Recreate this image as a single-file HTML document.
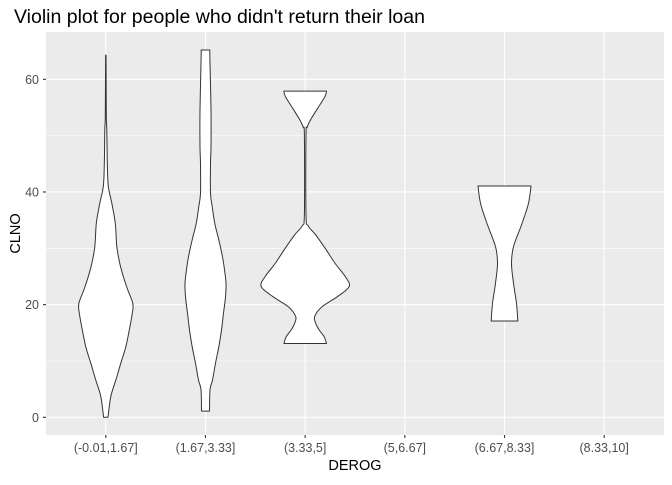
<!DOCTYPE html>
<html><head><meta charset="utf-8"><style>
body{margin:0;background:#fff;font-family:"Liberation Sans",Arial,sans-serif}
</style></head><body>
<svg id="c" width="672" height="480" xmlns="http://www.w3.org/2000/svg"></svg>
<script>
const categories=["(-0.01,1.67]","(1.67,3.33]","(3.33,5]","(5,6.67]","(6.67,8.33]","(8.33,10]"];
const yTicks=[0,20,40,60];
// violin profiles: value (CLNO) and half-width (density, px)
const v1Vals=[0,3.7,6.6,9.6,12.5,15.5,18.5,20.2,22.6,25,27.3,30.3,34.4,38,41,45,51,53.7,64.3];
const v1Dens=[2.2,5,10,15,20,23.5,26.5,27,22,17.5,14,11,9.5,6,2.5,1.5,1,0.5,0.2];
const v2Vals=[1.1,4.9,6.6,9.6,12.5,15.5,18.5,21.4,23.8,26.2,28.5,31.5,34.4,37.4,39.8,45,48,54.6,62.8,65.2];
const v2Dens=[4,4.5,7,10,13.3,16,18,20,20.5,19,17,13.3,9.3,6.7,5,5,5.5,5.5,4.5,4.3];
const v3Vals=[13.1,14.3,15.5,16.7,17.9,19.6,21.4,23.2,25,27.3,30,32.5,34,36,50,51.5,53,55,57,57.9];
const v3Dens=[21.3,19,14,10.5,9.5,16.7,32,44,40,30,20,10,3,0.8,0.8,2,6,13,20,21.3];
const v5Vals=[17.1,20.2,23.8,27.3,30.3,34.4,38,41.06];
const v5Dens=[13.3,12,9,7,9,17.5,24,26.5];
const violins=[{i:0,vals:v1Vals,dens:v1Dens},{i:1,vals:v2Vals,dens:v2Dens},{i:2,vals:v3Vals,dens:v3Dens},{i:4,vals:v5Vals,dens:v5Dens}];

const NS="http://www.w3.org/2000/svg";
const svg=document.getElementById('c');
const L=46,R=664,T=32,B=435;
const x=i=>L+(i+0.6)*(R-L)/6.2;
const y=v=>417.3-v*5.633;
function mk(tag,attrs,parent){const e=document.createElementNS(NS,tag);for(const k in attrs)e.setAttribute(k,attrs[k]);(parent||svg).appendChild(e);return e;}
function spline(p){let d='M'+p[0][0].toFixed(1)+','+p[0][1].toFixed(1);
 for(let i=0;i<p.length-1;i++){const p0=p[Math.max(i-1,0)],p1=p[i],p2=p[i+1],p3=p[Math.min(i+2,p.length-1)];
  const c1=[p1[0]+(p2[0]-p0[0])/6,p1[1]+(p2[1]-p0[1])/6],c2=[p2[0]-(p3[0]-p1[0])/6,p2[1]-(p3[1]-p1[1])/6];
  d+=' C'+c1.map(n=>n.toFixed(1))+' '+c2.map(n=>n.toFixed(1))+' '+p2.map(n=>n.toFixed(1));}
 return d;}

const panel=mk('rect',{x:L,y:T,width:R-L,height:B-T,fill:'#ebebeb'});


for(let v=-10;v<=70;v+=20){const yy=y(v);if(yy<T||yy>B)continue;
 const g=mk('line',{x1:L,x2:R,y1:yy,y2:yy,stroke:'#fff','stroke-width':0.55});
 
 }
yTicks.forEach(v=>{const yy=y(v);
 const g=mk('line',{x1:L,x2:R,y1:yy,y2:yy,stroke:'#fff','stroke-width':1.1});
 
 
 const t=mk('line',{x1:L-3,x2:L,y1:yy,y2:yy,stroke:'#333','stroke-width':1.1});
 
 
 const l=mk('text',{x:L-7,y:yy+4.5,'text-anchor':'end','font-size':12.5,fill:'#4d4d4d'});
 l.textContent=v;
 
 });
categories.forEach((c,i)=>{const xx=x(i);
 const g=mk('line',{x1:xx,x2:xx,y1:T,y2:B,stroke:'#fff','stroke-width':1.1});
 
 
 const t=mk('line',{x1:xx,x2:xx,y1:B,y2:B+3,stroke:'#333','stroke-width':1.1});
 
 
 const l=mk('text',{x:xx,y:B+17,'text-anchor':'middle','font-size':12.5,fill:'#4d4d4d'});
 l.textContent=c;
 
 });
violins.forEach(v=>{const cx=x(v.i);let right=[],left=[];
 for(let k=0;k<v.vals.length;k++)right.push([cx+v.dens[k],y(v.vals[k])]);
 for(let k=v.vals.length-1;k>=0;k--)left.push([cx-v.dens[k],y(v.vals[k])]);
 const d=spline(right)+' L'+spline(left).slice(1)+' Z';
 const p=mk('path',{d:d,fill:'#fff',stroke:'#333','stroke-width':1,'stroke-linejoin':'round'});
 
 });
const title=mk('text',{x:14,y:23,'font-size':19.5,fill:'#000'});
title.textContent="Violin plot for people who didn't return their loan";


const xt=mk('text',{x:(L+R)/2,y:470,'text-anchor':'middle','font-size':14.5,fill:'#000'});
xt.textContent='DEROG';


const yt=mk('text',{x:0,y:0,'text-anchor':'middle','font-size':14.5,fill:'#000',transform:'translate(20,'+((T+B)/2)+') rotate(-90)'});
yt.textContent='CLNO';


</script>
</body></html>
